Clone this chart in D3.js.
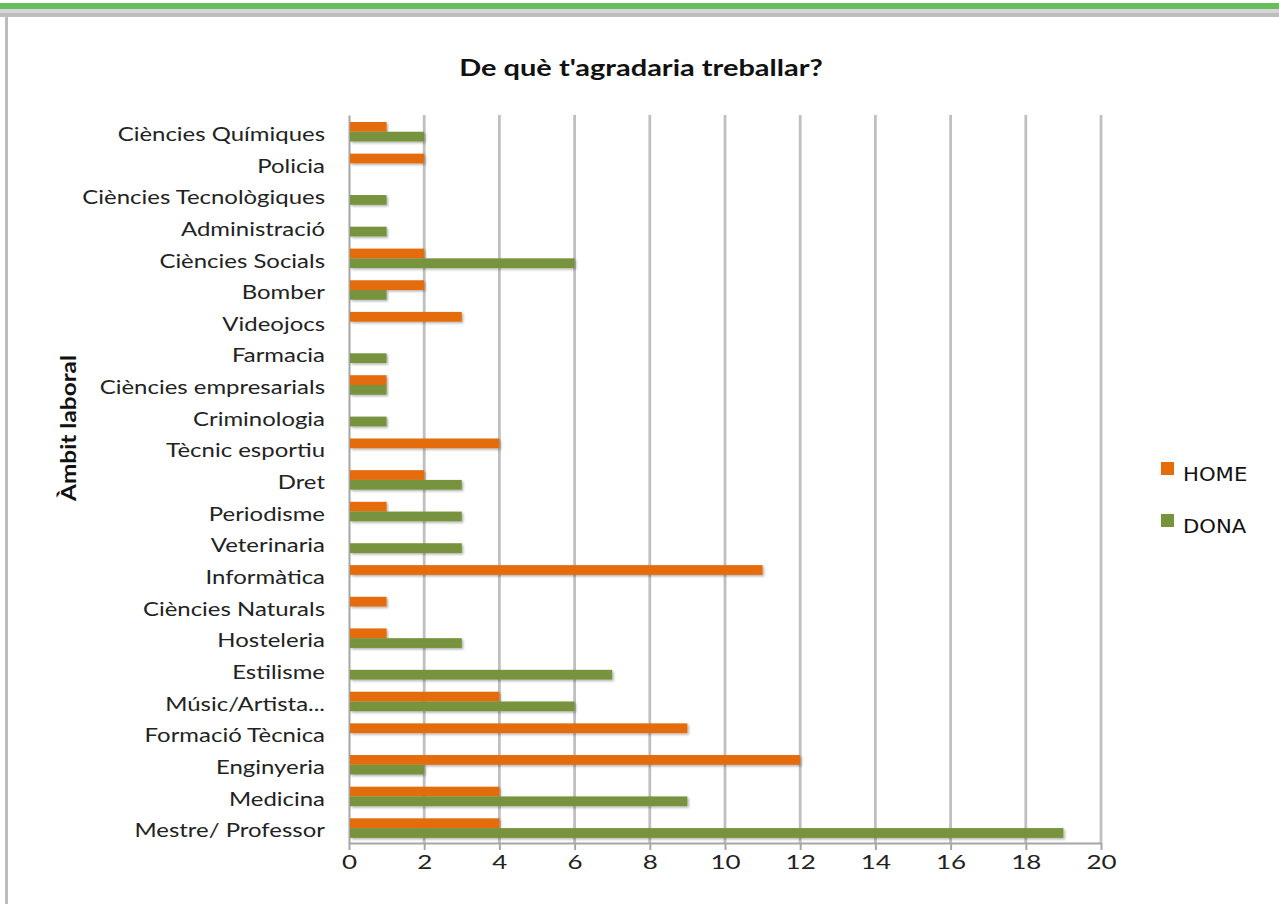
<!DOCTYPE html>
<html>
<head>
<meta charset="utf-8">
<script src="https://cdn.jsdelivr.net/npm/d3@7"></script>
<style>
  body { margin: 0; background: #fff; }
  svg { display: block; }
</style>
</head>
<body>
<div id="chart"></div>
<script>
// data, read top to bottom
const categories = ["Ciències Químiques", "Policia", "Ciències Tecnològiques", "Administració",
    "Ciències Socials", "Bomber", "Videojocs", "Farmacia", "Ciències empresarials", "Criminologia",
    "Tècnic esportiu", "Dret", "Periodisme", "Veterinaria", "Informàtica", "Ciències Naturals",
    "Hosteleria", "Estilisme", "Músic/Artista...", "Formació Tècnica", "Enginyeria", "Medicina",
    "Mestre/ Professor"];
const home = [1, 2, 0, 0, 2, 2, 3, 0, 1, 0, 4, 2, 1, 0, 11, 1, 1, 0, 4, 9, 12, 4, 4];
const dona = [2, 0, 1, 1, 6, 1, 0, 1, 1, 1, 0, 3, 3, 3, 0, 0, 3, 7, 6, 0, 2, 9, 19];
const seriesNames = ["HOME", "DONA"];
const seriesColors = ["#e46c0a", "#77933c"];
const xTicks = [0, 2, 4, 6, 8, 10, 12, 14, 16, 18, 20];

const W = 1279, H = 904;
const margin = { top: 115, right: 178, bottom: 61, left: 349 },
    width = W - margin.left - margin.right,
    height = H - margin.top - margin.bottom;

// the source picture is stretched sideways, so text is widened a bit
const stretch = 1.26;
const font = "Lato, 'Open Sans', sans-serif";

const rows = categories.map((c, i) => ({ cat: c, vals: [home[i], dona[i]] }));

const root = d3.select("#chart")
    .append("svg")
    .attr("width", W)
    .attr("height", H);

// drop shadow for the bars
const defs = root.append("defs");
defs.append("filter")
    .attr("id", "shadow")
    .attr("x", "-5%").attr("y", "-40%").attr("width", "110%").attr("height", "200%")
    .append("feDropShadow")
    .attr("dx", 1.5).attr("dy", 1.5).attr("stdDeviation", 1.2)
    .attr("flood-color", "#000").attr("flood-opacity", 0.3);

// page frame
root.append("rect").attr("x", 0).attr("y", 0).attr("width", W).attr("height", H).attr("fill", "#fff");
root.append("rect").attr("x", 0).attr("y", 3).attr("width", W).attr("height", 6).attr("fill", "#66bf5c");
root.append("rect").attr("x", 0).attr("y", 9).attr("width", W).attr("height", 4).attr("fill", "#d6d6d6");
root.append("rect").attr("x", 0).attr("y", 13).attr("width", W).attr("height", 4).attr("fill", "#bdbdbd");
root.append("rect").attr("x", 5).attr("y", 15).attr("width", 3).attr("height", H).attr("fill", "#bcbcbc");

const svg = root.append("g")
    .attr("transform", `translate(${margin.left},${margin.top})`);

const x = d3.scaleLinear()
    .domain([0, 20])
    .range([0, width]);

const y = d3.scaleBand()
    .domain(categories)
    .range([0, height]);

const ySub = d3.scaleBand()
    .domain(seriesNames)
    .range([7, 26.5]);

// grid lines
svg.append("g")
    .selectAll("line")
    .data(xTicks.filter(d => d > 0))
    .join("line")
    .attr("x1", d => x(d)).attr("x2", d => x(d))
    .attr("y1", 0).attr("y2", height)
    .attr("stroke", "#c0c0c0")
    .attr("stroke-width", 2.8);

// bottom axis
const xAxis = svg.append("g")
    .attr("transform", `translate(0, ${height})`)
    .call(d3.axisBottom(x).tickValues(xTicks).tickSize(7).tickSizeOuter(0).tickPadding(5));
xAxis.select(".domain").attr("stroke", "#a6a6a6").attr("stroke-width", 2);
xAxis.selectAll(".tick line").attr("stroke", "#a6a6a6").attr("stroke-width", 2);
xAxis.selectAll("text")
    .attr("fill", "#222")
    .attr("transform", "scale(1.3,1)")
    .style("font-family", font)
    .style("font-size", "20px");

// left axis (category labels)
const yAxis = svg.append("g")
    .call(d3.axisLeft(y).tickSize(0).tickPadding(24));
yAxis.select(".domain").attr("stroke", "#a6a6a6").attr("stroke-width", 2);
yAxis.selectAll("text")
    .attr("fill", "#222")
    .attr("x", -24 / stretch)
    .attr("dy", "0.32em")
    .attr("y", 4)
    .attr("transform", `scale(${stretch},1)`)
    .style("font-family", font)
    .style("font-size", "19px");

// bars
svg.append("g")
    .selectAll("g")
    .data(rows)
    .join("g")
    .attr("transform", d => `translate(0, ${y(d.cat)})`)
    .selectAll("rect")
    .data(d => d.vals.map((v, i) => ({ key: seriesNames[i], value: v, i: i })).filter(d => d.value > 0))
    .join("rect")
    .attr("x", 1)
    .attr("y", d => ySub(d.key))
    .attr("width", d => x(d.value) - 1)
    .attr("height", ySub.bandwidth())
    .attr("fill", d => seriesColors[d.i])
    .attr("filter", "url(#shadow)");

// title
root.append("text")
    .attr("transform", `translate(641, 67) scale(${stretch},1)`)
    .attr("text-anchor", "middle")
    .attr("dominant-baseline", "central")
    .attr("style", `fill: #111; font-size: 23px; font-weight: bold; font-family: ${font}`)
    .text("De què t'agradaria treballar?");

// y title
root.append("text")
    .attr("transform", "translate(68, 428) rotate(-90) scale(1.22,1)")
    .attr("text-anchor", "middle")
    .attr("dominant-baseline", "central")
    .attr("style", `fill: #111; font-size: 20px; font-weight: bold; font-family: ${font}`)
    .text("Àmbit laboral");

// legend
const legend = root.append("g")
    .selectAll("g")
    .data(seriesNames)
    .join("g")
    .attr("transform", (d, i) => `translate(1161, ${462 + i * 52})`);
legend.append("rect")
    .attr("width", 13).attr("height", 13)
    .attr("fill", (d, i) => seriesColors[i]);
legend.append("text")
    .attr("transform", "translate(22, 12) scale(1.06,1)")
    .attr("dominant-baseline", "central")
    .attr("style", "fill: #111; font-size: 20px; font-family: 'DejaVu Sans', Verdana, sans-serif")
    .text(d => d);
</script>
</body>
</html>
